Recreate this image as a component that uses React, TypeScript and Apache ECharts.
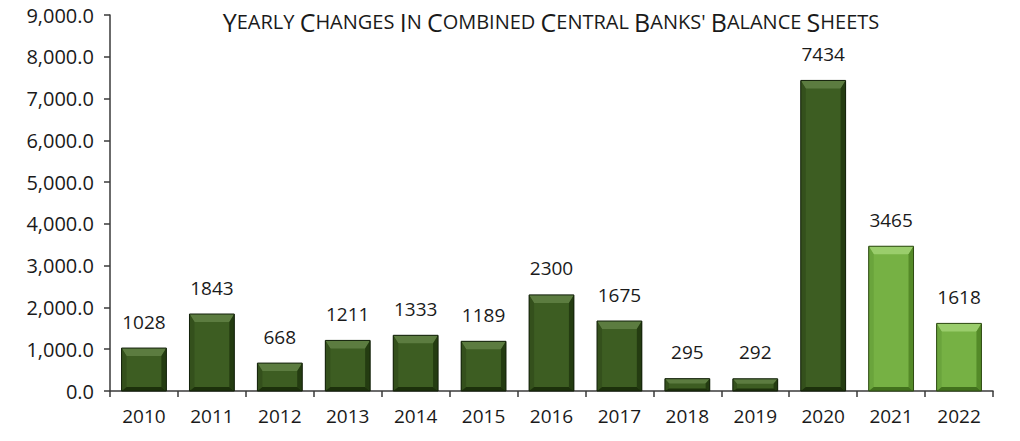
import React, { useEffect, useRef } from "react";
import * as echarts from "echarts";

const years = ["2010", "2011", "2012", "2013", "2014", "2015", "2016", "2017", "2018", "2019", "2020", "2021", "2022"];
const changes = [1028, 1843, 668, 1211, 1333, 1189, 2300, 1675, 295, 292, 7434, 3465, 1618];
const lightYears = ["2021", "2022"];
const yTicks = { min: 0, max: 9000, interval: 1000 };

const palettes = {
  dark: { face: "#3d5d22", top: "#5c7c40", left: "#34501c", right: "#243c11", bottom: "#1c300b", border: "#13210a" },
  light: { face: "#76b144", top: "#9acd6c", left: "#6aa43c", right: "#548a28", bottom: "#42711d", border: "#2f4d14" },
};

function smallCaps(text: string): string {
  return text
    .split(" ")
    .map((w) => `{cap|${w.charAt(0).toUpperCase()}}{sc|${w.slice(1).toUpperCase()}}`)
    .join("{sc| }");
}

export default function App() {
  const ref = useRef<HTMLDivElement>(null);
  useEffect(() => {
    if (!ref.current) return;
    const chart = echarts.init(ref.current, undefined, { renderer: "svg" });
    const font = "Open Sans";
    const paletteOf = (i: number) => (lightYears.includes(years[i]) ? palettes.light : palettes.dark);
    chart.setOption({
      animation: false,
      backgroundColor: "#ffffff",
      title: {
        text: smallCaps("Yearly Changes In Combined Central Banks' Balance Sheets"),
        left: 546,
        top: 4,
        textAlign: "center",
        textStyle: {
          fontWeight: "normal",
          rich: {
            cap: { fontFamily: font, fontSize: 25, fontWeight: "normal", color: "#1a1a1a" },
            sc: { fontFamily: font, fontSize: 20, fontWeight: "normal", color: "#1a1a1a" },
          },
        },
      },
      grid: { left: 110, right: 27, top: 15, bottom: 50, containLabel: false },
      xAxis: {
        type: "category",
        data: years,
        axisLine: { lineStyle: { color: "#3a3a3a", width: 1.5 } },
        axisTick: { show: true, alignWithLabel: false, length: 6, lineStyle: { color: "#3a3a3a", width: 1.5 } },
        axisLabel: { color: "#1a1a1a", fontSize: 19, fontFamily: font, margin: 15 },
      },
      yAxis: {
        type: "value",
        min: yTicks.min,
        max: yTicks.max,
        interval: yTicks.interval,
        axisLine: { show: true, lineStyle: { color: "#3a3a3a", width: 1.5 } },
        axisTick: { show: true, inside: false, length: 6, lineStyle: { color: "#3a3a3a", width: 1.5 } },
        splitLine: { show: false },
        axisLabel: {
          color: "#1a1a1a",
          fontSize: 20,
          fontFamily: font,
          margin: 16,
          formatter: (v: number) =>
            v.toLocaleString("en-US", { minimumFractionDigits: 1, maximumFractionDigits: 1 }),
        },
      },
      series: [
        {
          type: "bar",
          barWidth: "66%",
          data: changes.map((v, i) => ({
            value: v,
            itemStyle: { color: paletteOf(i).face, borderColor: paletteOf(i).border, borderWidth: 1 },
          })),
          label: {
            show: true,
            position: "top",
            distance: 17,
            color: "#1a1a1a",
            fontSize: 19,
            fontFamily: font,
          },
          z: 2,
        },
        {
          type: "custom",
          data: changes.map((v, i) => [i, v]),
          encode: { x: 0, y: 1 },
          silent: true,
          z: 3,
          renderItem: (params: any, api: any) => {
            const idx = api.value(0);
            const val = api.value(1);
            const p = paletteOf(idx);
            const top = api.coord([idx, val]);
            const base = api.coord([idx, 0]);
            const w = api.size([1, 0])[0] * 0.66;
            const x0 = top[0] - w / 2;
            const x1 = top[0] + w / 2;
            const y0 = top[1];
            const y1 = base[1];
            const h = y1 - y0;
            const b = Math.min(8, h / 2.5);
            const s = Math.min(5, h / 3);
            const bb = Math.min(4, h / 5);
            return {
              type: "group",
              children: [
                { type: "polygon", shape: { points: [[x0, y0], [x1, y0], [x1 - s, y0 + b], [x0 + s, y0 + b]] }, style: { fill: p.top } },
                { type: "polygon", shape: { points: [[x0, y0], [x0 + s, y0 + b], [x0 + s, y1 - bb], [x0, y1]] }, style: { fill: p.left } },
                { type: "polygon", shape: { points: [[x1, y0], [x1 - s, y0 + b], [x1 - s, y1 - bb], [x1, y1]] }, style: { fill: p.right } },
                { type: "polygon", shape: { points: [[x0, y1], [x0 + s, y1 - bb], [x1 - s, y1 - bb], [x1, y1]] }, style: { fill: p.bottom } },
                { type: "rect", shape: { x: x0, y: y0, width: w, height: h }, style: { fill: "none", stroke: p.border, lineWidth: 1 } },
              ],
            };
          },
        },
      ],
    });
    return () => chart.dispose();
  }, []);
  return <div ref={ref} style={{ width: 1020, height: 441, position: "absolute", left: 0, top: 0 }} />;
}
